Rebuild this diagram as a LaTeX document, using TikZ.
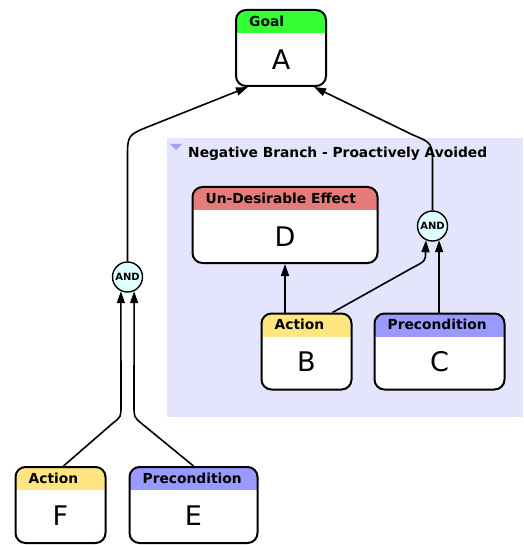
\documentclass[tikz,border=0pt]{standalone}
\usepackage{fontspec}
\setmainfont{DejaVu Sans}
\usetikzlibrary{arrows.meta}
\definecolor{goalc}{HTML}{33FF33}
\definecolor{udec}{HTML}{E57B7B}
\definecolor{actc}{HTML}{FFE680}
\definecolor{prec}{HTML}{9999FF}
\definecolor{grpc}{HTML}{E4E4FC}
\definecolor{tric}{HTML}{A0A0F5}
\definecolor{andc}{HTML}{E0FFFF}
\tikzset{
  box/.style={draw, line width=2pt, rounded corners=10pt, fill=white, inner sep=0pt},
  hdr/.style={path picture={\fill[#1, sharp corners] (path picture bounding box.north west) rectangle ([yshift=-23pt]path picture bounding box.north east);}},
  hdrtext/.style={anchor=west, inner sep=0pt, font=\bfseries\fontsize{13.8}{15}\selectfont},
  big/.style={inner sep=0pt, font=\fontsize{27}{30}\selectfont},
  andnode/.style={circle, draw, line width=1.4pt, fill=andc, minimum size=30pt, inner sep=0pt, font=\bfseries\fontsize{10}{11}\selectfont},
  arr/.style={line width=1.6pt, -{Triangle[length=12pt,width=8pt]}},
}
\begin{document}
\begin{tikzpicture}[x=1pt,y=-1pt]
\useasboundingbox (0,0) rectangle (523,545);
% group
\node[fill=grpc, minimum width=356pt, minimum height=279pt, anchor=north west, inner sep=0pt] (grp) at (167,138) {};
\fill[tric] (170,144) -- (182,144) -- (176,150) -- cycle;
\node[hdrtext] (grplabel) at (188,154) {Negative Branch - Proactively Avoided};
% boxes
\node[box, hdr=goalc, minimum width=90pt, minimum height=76pt] (A) at (281,48) {};
\node[hdrtext] (Ah) at ([xshift=14pt,yshift=-12pt]A.north west) {Goal};
\node[big] (At) at (281,60) {A};
\node[box, hdr=udec, minimum width=185pt, minimum height=76pt] (D) at (285,225) {};
\node[hdrtext] (Dh) at ([xshift=14pt,yshift=-12pt]D.north west) {Un-Desirable Effect};
\node[big] (Dt) at (285,237) {D};
\node[box, hdr=actc, minimum width=90pt, minimum height=76pt] (B) at (306.5,351.5) {};
\node[hdrtext] (Bh) at ([xshift=14pt,yshift=-12pt]B.north west) {Action};
\node[big] (Bt) at (306.5,362) {B};
\node[box, hdr=prec, minimum width=130pt, minimum height=76pt] (C) at (439.5,351.5) {};
\node[hdrtext] (Ch) at ([xshift=14pt,yshift=-12pt]C.north west) {Precondition};
\node[big] (Ct) at (439.5,362) {C};
\node[box, hdr=actc, minimum width=90pt, minimum height=76pt] (F) at (60.5,505) {};
\node[hdrtext] (Fh) at ([xshift=14pt,yshift=-12pt]F.north west) {Action};
\node[big] (Ft) at (60.5,516) {F};
\node[box, hdr=prec, minimum width=128pt, minimum height=76pt] (E) at (193.5,505) {};
\node[hdrtext] (Eh) at ([xshift=14pt,yshift=-12pt]E.north west) {Precondition};
\node[big] (Et) at (193.5,516) {E};
% AND nodes
\node[andnode] (andR) at (432.5,226) {AND};
\node[andnode] (andL) at (127.5,277) {AND};
% connectors
\draw[arr] (B.north -| D.south) -- (D.south);
\draw[arr] ([xshift=26pt]B.north) -- (412,268) .. controls (425.5,261) .. (425.5,252) -- (andR.-115);
\draw[arr] (andR.-65 |- C.north) -- (andR.-65);
\draw[arr] (andR.north) -- (432.5,168) .. controls (432.5,143) .. (413,135) -- ([xshift=-13pt]A.south east);
\draw[arr] (andL.north) -- (127.5,158) .. controls (127.5,135) .. (150,126) -- ([xshift=13pt]A.south west);
\draw[arr] ([xshift=3pt]F.north) -- (113,423) .. controls (121,417) .. (121,405) -- (andL.-115);
\draw[arr] (E.north) -- (141,423) .. controls (134,417) .. (134,405) -- (andL.-65);
\end{tikzpicture}
\end{document}
